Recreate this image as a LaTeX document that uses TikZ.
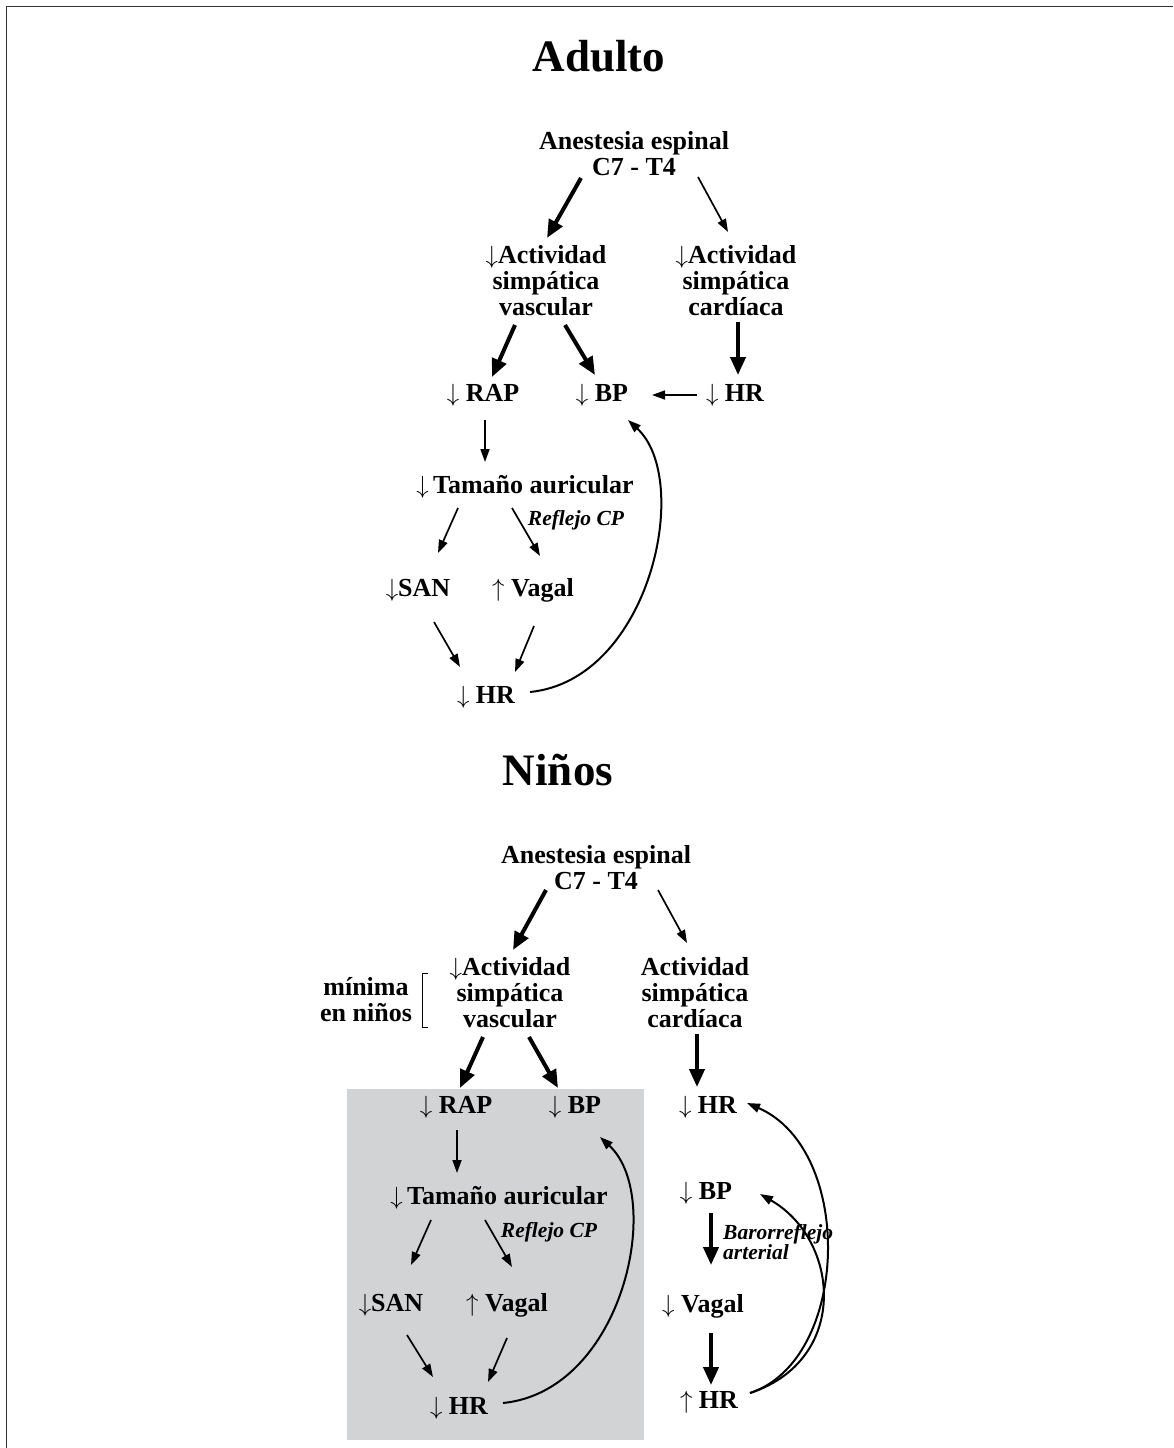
\documentclass[tikz,border=0pt]{standalone}
\usepackage{fontspec}
\setmainfont{Liberation Serif}
\usetikzlibrary{arrows.meta}
\definecolor{grisbox}{RGB}{209,211,212}
\newcommand{\baja}{$\downarrow$}
\newcommand{\sube}{$\uparrow$}
\tikzset{
  txt/.style={font=\fontsize{26}{26}\selectfont\bfseries, align=center, inner sep=0pt},
  titulo/.style={font=\fontsize{45}{50}\selectfont\bfseries, inner sep=0pt},
  nota/.style={font=\fontsize{21.5}{20}\selectfont\bfseries\itshape, inner sep=0pt, align=left},
  flecha/.style={line width=1.7pt, -{Triangle[length=13pt,width=9pt]}},
  gruesa/.style={line width=4pt, -{Triangle[length=18pt,width=15pt]}},
  curva/.style={line width=2pt, -{Triangle[length=13pt,width=9pt]}},
}
\begin{document}
\begin{tikzpicture}[x=1pt, y=-1pt]
			\useasboundingbox (0,0) rectangle (1173,1448);
			\draw[line width=1.5pt, black!80] (6.5,1448) -- (6.5,6.5) -- (1173,6.5);
			% Adulto
			\node[titulo] (titA) at (599,56) {Adulto};
			\node[txt] (anest) at (634,154) {Anestesia espinal\\C7 - T4};
			\node[txt] (vascA) at (546,281) {\baja Actividad\\simpática\\vascular};
			\node[txt] (cardA) at (736,281) {\baja Actividad\\simpática\\cardíaca};
			\node[txt] (rapA) at (483,395) {\baja{} RAP};
			\node[txt] (bpA) at (602,395) {\baja{} BP};
			\node[txt] (hrA1) at (735,395) {\baja{} HR};
			\node[txt] (tamA) at (525,487) {\baja\,Tamaño auricular};
			\node[nota] (cpA) at (576,520) {Reflejo CP};
			\node[txt] (sanA) at (418,590) {\baja SAN};
			\node[txt] (vagA) at (533,590) {\sube{} Vagal};
			\node[txt] (hrA2) at (486,697) {\baja{} HR};
			\draw[gruesa] ([shift={(-53,24)}]anest.center) -- ([shift={(1,-43)}]vascA.center);
			\draw[flecha] ([shift={(64,23)}]anest.center) -- ([shift={(-8,-49)}]cardA.center);
			\draw[gruesa] ([shift={(-31,44)}]vascA.center) -- ([shift={(9,-18)}]rapA.center);
			\draw[gruesa] ([shift={(19,44)}]vascA.center) -- ([shift={(-7,-20)}]bpA.center);
			\draw[gruesa] ([shift={(2,41)}]cardA.center) -- ([shift={(3,-20)}]hrA1.center);
			\draw[flecha] ([shift={(-38,0)}]hrA1.center) -- ([shift={(50,0)}]bpA.center);
			\draw[flecha] ([shift={(2,25)}]rapA.center) -- ([shift={(-40,-25)}]tamA.center);
			\draw[flecha] ([shift={(-67,21)}]tamA.center) -- ([shift={(20,-37)}]sanA.center);
			\draw[flecha] ([shift={(-13,21)}]tamA.center) -- ([shift={(7,-34)}]vagA.center);
			\draw[flecha] ([shift={(16,32)}]sanA.center) -- ([shift={(-26,-30)}]hrA2.center);
			\draw[flecha] ([shift={(1,36)}]vagA.center) -- ([shift={(29,-25)}]hrA2.center);
			\draw[curva] ([shift={(44,-5)}]hrA2.center) .. controls +(120,-12) and +(65,60) .. ([shift={(26,25)}]bpA.center);
			% Niños
			\node[titulo] (titN) at (558,770) {Niños};
			\fill[grisbox] (347,1089) rectangle (644,1440);
			\node[txt] (anestN) at (596,868) {Anestesia espinal\\C7 - T4};
			\node[txt] (vascN) at (510,993) {\baja Actividad\\simpática\\vascular};
			\node[txt] (minN) at (366,1000) {mínima\\en niños};
			\draw[line width=1pt] (428,973) -- (422,973) -- (422,1027) -- (428,1027);
			\node[txt] (cardN) at (695,993) {Actividad\\simpática\\cardíaca};
			\node[txt] (rapN) at (456,1107) {\baja{} RAP};
			\node[txt] (bpN) at (575,1107) {\baja{} BP};
			\node[txt] (hrN1) at (708,1107) {\baja{} HR};
			\node[txt] (tamN) at (499,1198) {\baja\,Tamaño auricular};
			\node[nota] (cpN) at (549,1232) {Reflejo CP};
			\node[txt] (sanN) at (391,1305) {\baja SAN};
			\node[txt] (vagN) at (507,1305) {\sube{} Vagal};
			\node[txt] (hrN2) at (459,1408) {\baja{} HR};
			\node[txt] (bpN2) at (706,1193) {\baja{} BP};
			\node[nota, anchor=west] (baroN) at (723,1242) {Barorreflejo\\arterial};
			\node[txt] (vagN2) at (703,1306) {\baja{} Vagal};
			\node[txt] (hrN3) at (709,1402) {\sube{} HR};
			\draw[gruesa] ([shift={(-50,22)}]anestN.center) -- ([shift={(3,-43)}]vascN.center);
			\draw[flecha] ([shift={(62,22)}]anestN.center) -- ([shift={(-8,-50)}]cardN.center);
			\draw[gruesa] ([shift={(-27,44)}]vascN.center) -- ([shift={(4,-19)}]rapN.center);
			\draw[gruesa] ([shift={(19,44)}]vascN.center) -- ([shift={(-17,-19)}]bpN.center);
			\draw[gruesa] ([shift={(2,41)}]cardN.center) -- ([shift={(-11,-20)}]hrN1.center);
			\draw[flecha] ([shift={(1,23)}]rapN.center) -- ([shift={(-42,-25)}]tamN.center);
			\draw[flecha] ([shift={(-68,22)}]tamN.center) -- ([shift={(20,-40)}]sanN.center);
			\draw[flecha] ([shift={(-14,22)}]tamN.center) -- ([shift={(5,-38)}]vagN.center);
			\draw[flecha] ([shift={(16,30)}]sanN.center) -- ([shift={(-26,-31)}]hrN2.center);
			\draw[flecha] ([shift={(0,33)}]vagN.center) -- ([shift={(29,-26)}]hrN2.center);
			\draw[curva] ([shift={(44,-5)}]hrN2.center) .. controls +(120,-12) and +(65,60) .. ([shift={(25,30)}]bpN.center);
			\draw[gruesa] ([shift={(5,20)}]bpN2.center) -- ([shift={(8,-41)}]vagN2.center);
			\draw[gruesa] ([shift={(8,27)}]vagN2.center) -- ([shift={(2,-17)}]hrN3.center);
			\draw[curva] ([shift={(41,-9)}]hrN3.center) .. controls +(100,-33) and +(108,47) .. ([shift={(39,-4)}]hrN1.center);
			\draw[curva] ([shift={(41,-9)}]hrN3.center) .. controls +(100,-33) and +(80,46) .. ([shift={(54,1)}]bpN2.center);
		\end{tikzpicture}
\end{document}
